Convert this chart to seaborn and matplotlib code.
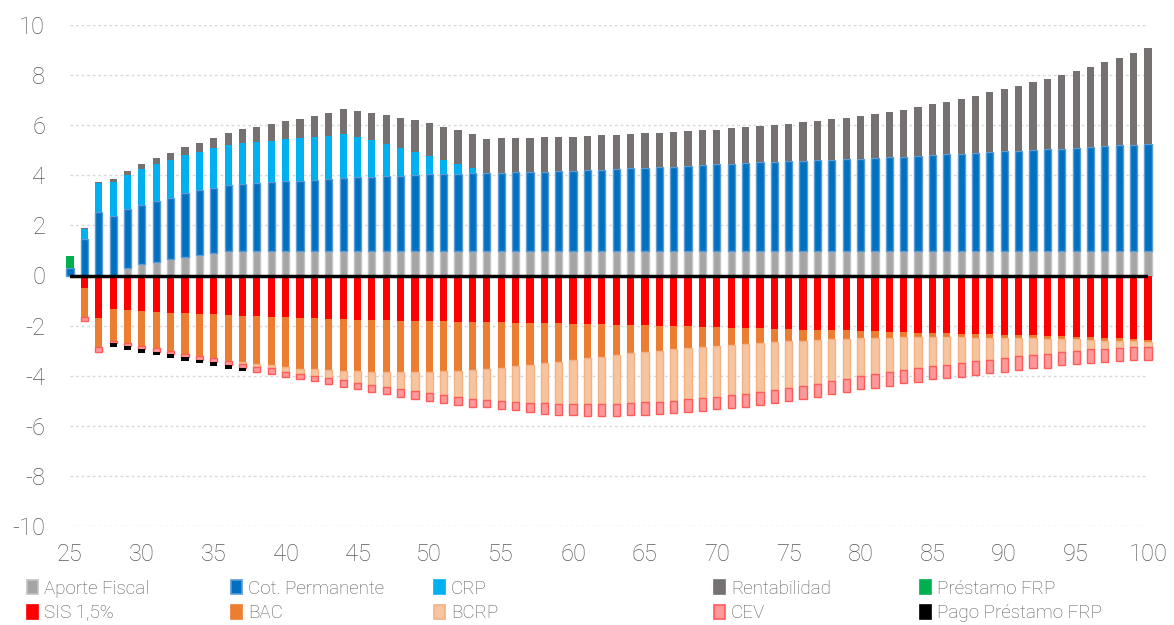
import numpy as np
import matplotlib
matplotlib.use("Agg")
import matplotlib.pyplot as plt
from matplotlib.patches import Patch
import seaborn as sns

# edades 25..100
years = np.arange(25, 101)

# componentes positivos
aporte_fiscal = [0, 0, 0, 0, 0.29, 0.45, 0.55, 0.65, 0.75, 0.82,
                 0.91, 0.98, 0.98, 0.98, 0.98, 0.98, 0.98, 0.98, 0.98, 0.98,
                 0.98, 0.98, 0.98, 0.98, 0.98, 0.98, 0.98, 0.98, 0.98, 0.98,
                 0.98, 0.98, 0.98, 0.98, 0.98, 0.98, 0.98, 0.98, 0.98, 0.98,
                 0.98, 0.98, 0.98, 0.98, 0.98, 0.98, 0.98, 0.98, 0.98, 0.98,
                 0.98, 0.98, 0.98, 0.98, 0.98, 0.98, 0.98, 0.98, 0.98, 0.98,
                 0.98, 0.98, 0.98, 0.98, 0.98, 0.98, 0.98, 0.98, 0.98, 0.98,
                 0.98, 0.98, 0.98, 0.98, 0.98, 0.98]
cot_permanente = [0.30, 1.46, 2.52, 2.37, 2.35, 2.36, 2.44, 2.46, 2.53, 2.58,
                  2.60, 2.63, 2.69, 2.71, 2.75, 2.78, 2.81, 2.83, 2.86, 2.92,
                  2.94, 2.96, 2.99, 3.00, 3.03, 3.06, 3.07, 3.08, 3.11, 3.11,
                  3.12, 3.14, 3.16, 3.16, 3.18, 3.20, 3.23, 3.24, 3.26, 3.30,
                  3.32, 3.35, 3.36, 3.39, 3.42, 3.46, 3.48, 3.51, 3.54, 3.55,
                  3.58, 3.59, 3.62, 3.63, 3.66, 3.67, 3.71, 3.74, 3.76, 3.80,
                  3.83, 3.86, 3.88, 3.91, 3.95, 3.98, 3.99, 4.02, 4.06, 4.07,
                  4.11, 4.15, 4.18, 4.22, 4.24, 4.28]
crp = [0, 0.40, 1.16, 1.38, 1.36, 1.43, 1.47, 1.50, 1.53, 1.54,
       1.57, 1.60, 1.61, 1.65, 1.65, 1.69, 1.70, 1.73, 1.74, 1.75,
       1.60, 1.47, 1.29, 1.12, 0.93, 0.74, 0.56, 0.39, 0.20, 0,
       0, 0, 0, 0, 0, 0, 0, 0, 0, 0,
       0, 0, 0, 0, 0, 0, 0, 0, 0, 0,
       0, 0, 0, 0, 0, 0, 0, 0, 0, 0,
       0, 0, 0, 0, 0, 0, 0, 0, 0, 0,
       0, 0, 0, 0, 0, 0]
rentabilidad = [0, 0.05, 0.07, 0.10, 0.17, 0.20, 0.22, 0.28, 0.32, 0.36,
                0.42, 0.48, 0.56, 0.60, 0.67, 0.73, 0.77, 0.84, 0.92, 0.98,
                1.05, 1.09, 1.15, 1.20, 1.25, 1.29, 1.32, 1.35, 1.35, 1.37,
                1.38, 1.37, 1.36, 1.38, 1.38, 1.36, 1.36, 1.38, 1.38, 1.37,
                1.38, 1.37, 1.39, 1.39, 1.40, 1.38, 1.42, 1.43, 1.45, 1.48,
                1.50, 1.55, 1.58, 1.63, 1.65, 1.70, 1.76, 1.82, 1.88, 1.95,
                2.02, 2.10, 2.19, 2.29, 2.38, 2.47, 2.59, 2.71, 2.82, 2.94,
                3.07, 3.21, 3.35, 3.50, 3.66, 3.82]
prestamo_frp = [0.48] + [0] * 75

# componentes negativos
sis = [0, -0.51, -1.68, -1.35, -1.38, -1.42, -1.44, -1.48, -1.50, -1.52,
       -1.55, -1.58, -1.60, -1.62, -1.64, -1.66, -1.68, -1.71, -1.72, -1.75,
       -1.76, -1.78, -1.79, -1.80, -1.82, -1.83, -1.83, -1.84, -1.86, -1.87,
       -1.87, -1.88, -1.90, -1.91, -1.91, -1.92, -1.94, -1.95, -1.96, -1.98,
       -1.99, -2.00, -2.02, -2.03, -2.06, -2.07, -2.10, -2.11, -2.11, -2.14,
       -2.15, -2.16, -2.18, -2.18, -2.19, -2.20, -2.23, -2.26, -2.27, -2.28,
       -2.30, -2.31, -2.32, -2.34, -2.35, -2.36, -2.38, -2.39, -2.40, -2.42,
       -2.44, -2.47, -2.49, -2.51, -2.55, -2.57]
bac = [0, -1.13, -1.19, -1.25, -1.33, -1.39, -1.47, -1.53, -1.63, -1.69,
       -1.76, -1.82, -1.87, -1.91, -1.95, -2.01, -2.04, -2.04, -2.05, -2.05,
       -2.07, -2.07, -2.08, -2.07, -2.03, -2.01, -1.98, -1.96, -1.90, -1.86,
       -1.81, -1.73, -1.66, -1.60, -1.53, -1.45, -1.37, -1.30, -1.23, -1.13,
       -1.06, -1.00, -0.93, -0.86, -0.78, -0.74, -0.67, -0.62, -0.58, -0.51,
       -0.46, -0.44, -0.39, -0.35, -0.33, -0.30, -0.25, -0.22, -0.19, -0.18,
       -0.16, -0.15, -0.14, -0.14, -0.13, -0.12, -0.10, -0.09, -0.12, -0.10,
       -0.11, -0.10, -0.11, -0.09, -0.08, -0.08]
bcrp = [0, 0, 0, 0, 0, 0, 0, 0, 0, 0,
        0, 0, -0.08, -0.11, -0.12, -0.17, -0.21, -0.26, -0.34, -0.39,
        -0.45, -0.52, -0.59, -0.66, -0.77, -0.86, -0.96, -1.06, -1.17, -1.24,
        -1.33, -1.44, -1.53, -1.59, -1.68, -1.76, -1.82, -1.88, -1.94, -1.99,
        -2.01, -2.04, -2.05, -2.05, -2.05, -2.03, -2.01, -1.99, -1.96, -1.92,
        -1.87, -1.80, -1.75, -1.69, -1.60, -1.52, -1.46, -1.37, -1.31, -1.25,
        -1.17, -1.10, -1.02, -0.95, -0.89, -0.81, -0.75, -0.68, -0.60, -0.52,
        -0.45, -0.38, -0.32, -0.29, -0.24, -0.22]
cev = [0, -0.16, -0.17, -0.11, -0.10, -0.12, -0.13, -0.14, -0.14, -0.16,
       -0.16, -0.17, -0.16, -0.20, -0.24, -0.23, -0.22, -0.22, -0.22, -0.25,
       -0.25, -0.27, -0.28, -0.31, -0.30, -0.30, -0.31, -0.31, -0.31, -0.29,
       -0.30, -0.33, -0.37, -0.41, -0.44, -0.45, -0.47, -0.48, -0.48, -0.48,
       -0.50, -0.49, -0.48, -0.50, -0.51, -0.50, -0.51, -0.52, -0.53, -0.53,
       -0.54, -0.52, -0.52, -0.52, -0.53, -0.52, -0.54, -0.56, -0.53, -0.54,
       -0.51, -0.53, -0.56, -0.53, -0.53, -0.55, -0.54, -0.52, -0.56, -0.53,
       -0.53, -0.53, -0.52, -0.51, -0.50, -0.50]
pago_frp = [0, 0, 0, -0.16, -0.16, -0.15, -0.13, -0.16, -0.14, -0.14,
            -0.16, -0.16, -0.10] + [0] * 63

pos_series = [
    ("Aporte Fiscal", aporte_fiscal, "#A5A5A5", "#C4C4C4"),
    ("Cot. Permanente", cot_permanente, "#0070C0", "#5B9BD5"),
    ("CRP", crp, "#00B0F0", None),
    ("Rentabilidad", rentabilidad, "#767171", None),
    ("Préstamo FRP", prestamo_frp, "#00B050", None),
]
neg_series = [
    ("SIS 1,5%", sis, "#FF0000", None),
    ("BAC", bac, "#ED7D31", None),
    ("BCRP", bcrp, "#F7C4A0", "#F4B183"),
    ("CEV", cev, "#FF9999", "#FF5B5B"),
    ("Pago Préstamo FRP", pago_frp, "#000000", None),
]

sns.set_style("white")
plt.rcParams['font.family'] = ['Roboto', 'DejaVu Sans']
gris = "#595959"

fig = plt.figure(figsize=(11.74, 6.25), dpi=100)
ax = fig.add_axes([70 / 1174, 1 - 526 / 625, 1078 / 1174, 501 / 625])


def stack(series):
    base = np.zeros(len(years))
    for name, vals, fill, edge in series:
        vals = np.array(vals, dtype=float)
        m = vals != 0
        sns.barplot(x=years[m], y=vals[m], bottom=base[m], native_scale=True,
                    width=0.5, color=fill, saturation=1, errorbar=None,
                    edgecolor=edge if edge else fill,
                    linewidth=1.0 if edge else 0, clip_on=False, zorder=2, ax=ax)
        base = base + vals


stack(pos_series)
stack(neg_series)

ax.axhline(0, color="black", lw=2.5, zorder=5)
ax.set_xlim(25, 100)
ax.set_ylim(-10, 10)
ax.set_xticks(range(25, 101, 5))
ax.set_xticklabels([str(v) for v in range(25, 101, 5)])
ax.set_yticks(range(-10, 11, 2))
ax.set_yticklabels([str(v) for v in range(-10, 11, 2)])
ax.yaxis.grid(True, color="#D9D9D9", linestyle=(0, (2, 2)), lw=1, zorder=0)
ax.xaxis.grid(False)
ax.set_axisbelow(True)
for s in ax.spines.values():
    s.set_visible(False)
ax.tick_params(axis="both", length=0, labelsize=17, labelcolor=gris)
ax.tick_params(axis="y", pad=18)
ax.tick_params(axis="x", pad=12)
for lab in ax.get_xticklabels() + ax.get_yticklabels():
    lab.set_fontweight("light")
ax.set_xlabel("")
ax.set_ylabel("")

# leyenda: una por columna para fijar posiciones
col_x = [27, 231, 434, 714, 920]
for i in range(5):
    handles = []
    for name, vals, fill, edge in (pos_series[i], neg_series[i]):
        handles.append(Patch(facecolor=fill, edgecolor=edge if edge else fill,
                             linewidth=1.2, label=name))
    leg = fig.legend(handles=handles, loc="center left",
                     bbox_to_anchor=(col_x[i] / 1174, 1 - 601 / 625),
                     frameon=False, fontsize=13.5, ncol=1, borderpad=0,
                     borderaxespad=0, handlelength=0.6, handleheight=0.75,
                     handletextpad=0.3, labelspacing=0.35,
                     labelcolor=gris)
    for t in leg.get_texts():
        t.set_fontweight("light")

fig.savefig("out.png", dpi=100)
